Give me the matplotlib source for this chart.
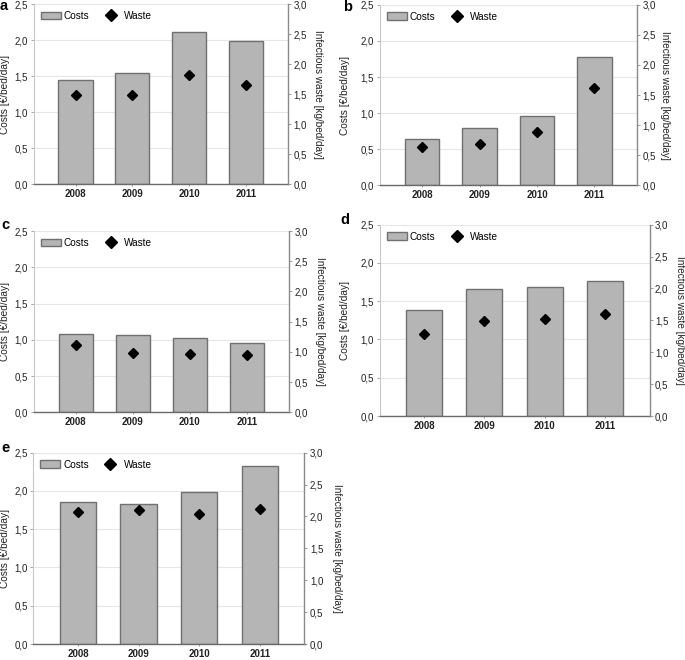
import matplotlib
matplotlib.use("Agg")
import matplotlib.pyplot as plt
from matplotlib.ticker import FuncFormatter, MultipleLocator
from matplotlib.patches import Patch
from matplotlib.lines import Line2D

plt.rcParams['font.family'] = ['Liberation Sans', 'DejaVu Sans']

years = ['2008', '2009', '2010', '2011']

costs_a = [1.45, 1.54, 2.11, 1.98]
waste_a = [1.48, 1.48, 1.81, 1.65]

costs_b = [0.64, 0.80, 0.96, 1.77]
waste_b = [0.64, 0.69, 0.88, 1.62]

costs_c = [1.08, 1.06, 1.03, 0.96]
waste_c = [1.11, 0.98, 0.96, 0.94]

costs_d = [1.38, 1.66, 1.69, 1.76]
waste_d = [1.28, 1.49, 1.52, 1.60]

costs_e = [1.85, 1.83, 1.99, 2.32]
waste_e = [2.07, 2.10, 2.04, 2.11]

panel_letters = ['a', 'b', 'c', 'd', 'e']

W, H = 685, 660
fig = plt.figure(figsize=(W / 100, H / 100), dpi=100)

# pixel boxes: left, right, top, bottom ; left-label x, right-label x, letter x, letter y
layout = [
    (33.5, 288.0, 4.0, 184.0, 5, 318, 4, 6),
    (379.5, 637.0, 4.7, 185.5, 345, 665, 348, 7),
    (33.5, 289.0, 231.0, 412.3, 5, 320, 5, 225),
    (379.5, 649.5, 224.7, 416.0, 345, 680, 345, 220),
    (33.3, 304.5, 452.7, 644.0, 5, 337, 5, 448),
]

data = [(costs_a, waste_a), (costs_b, waste_b), (costs_c, waste_c),
        (costs_d, waste_d), (costs_e, waste_e)]

fmt = FuncFormatter(lambda v, p: f"{v:.1f}".replace('.', ','))
FS = 7

for (costs, waste), (l, r, t, b, lx, rx, px, py), letter in zip(data, layout, panel_letters):
    ax = fig.add_axes([l / W, 1 - b / H, (r - l) / W, (b - t) / H])
    x = range(len(years))
    ax.bar(x, costs, width=0.6, color='#b5b5b5', edgecolor='#707070', linewidth=1.0, zorder=2)
    ax.set_xlim(-0.74, 3.74)
    ax.set_ylim(0, 2.5)
    ax.yaxis.set_major_locator(MultipleLocator(0.5))
    ax.yaxis.set_major_formatter(fmt)
    ax.set_xticks(list(x))
    ax.set_xticklabels(years, fontweight='bold')
    ax.grid(axis='y', color='#e6e6e6', linewidth=0.8, zorder=0)
    ax.set_axisbelow(True)
    ax.spines['top'].set_visible(False)
    ax.spines['left'].set_color('#c8c8c8')
    ax.spines['left'].set_linewidth(0.8)
    ax.spines['bottom'].set_color('#6a6a6a')
    ax.spines['bottom'].set_linewidth(1.0)
    ax.spines['right'].set_visible(False)
    ax.tick_params(axis='y', labelsize=FS, length=2.5, width=0.6, color='#999999', pad=1.5, labelcolor='#222222')
    ax.tick_params(axis='x', labelsize=FS, length=1.5, width=0.6, color='#888888', pad=2.0, labelcolor='#222222')

    ax2 = ax.twinx()
    ax2.plot(list(x), waste, linestyle='none', marker='D', markersize=5.2, color='black', zorder=3)
    ax2.set_ylim(0, 3.0)
    ax2.yaxis.set_major_locator(MultipleLocator(0.5))
    ax2.yaxis.set_major_formatter(fmt)
    for s in ['top', 'left', 'bottom']:
        ax2.spines[s].set_visible(False)
    ax2.spines['right'].set_color('#8a8a8a')
    ax2.spines['right'].set_linewidth(1.0)
    ax2.tick_params(axis='y', labelsize=FS, length=2.5, width=0.6, color='#888888', pad=1.5, labelcolor='#222222')

    cy = 1 - ((t + b) / 2) / H
    fig.text(lx / W, cy, 'Costs [€/bed/day]', rotation=90, ha='center', va='center', fontsize=7.3, color='#222222')
    fig.text(rx / W, cy, 'Infectious waste [kg/bed/day]', rotation=270, ha='center', va='center', fontsize=7.2, color='#222222')
    fig.text(px / W, 1 - py / H, letter, ha='center', va='center', fontsize=10.5, fontweight='bold')

    handles = [Patch(facecolor='#b5b5b5', edgecolor='#707070', linewidth=1.0),
               Line2D([], [], linestyle='none', marker='D', markersize=6, color='black')]
    ax.legend(handles, ['Costs', 'Waste'], ncol=2, loc='upper left', bbox_to_anchor=(0.0, 1.0),
              frameon=False, fontsize=7.2, handlelength=2.0, handleheight=0.8, columnspacing=1.1,
              handletextpad=0.35, borderaxespad=0.3, borderpad=0.4)

fig.savefig('out.png', dpi=100)
